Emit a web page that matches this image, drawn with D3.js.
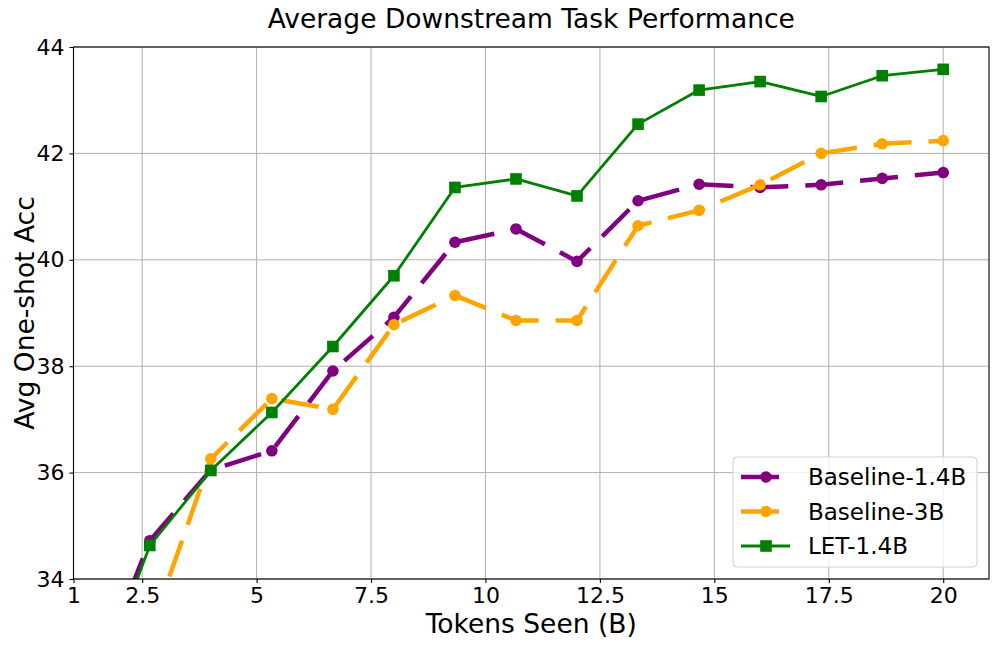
<!DOCTYPE html>
<html>
<head>
<meta charset="utf-8">
<script src="https://cdn.jsdelivr.net/npm/d3@7"></script>
<style>
  body { margin: 0; background: #fff; }
  svg { display: block; font-family: "DejaVu Sans", sans-serif; }
</style>
</head>
<body>
<div id="chart"></div>
<script>
// DATA
// ================================================================ //
const tokens = [1.333, 2.667, 4, 5.333, 6.667, 8, 9.333, 10.667, 12, 13.333, 14.667, 16, 17.333, 18.667, 20];
const baseline14 = [31.8, 34.72, 36.05, 36.41, 37.91, 38.92, 40.33, 40.58, 39.97, 41.11, 41.42, 41.36, 41.41, 41.53, 41.64];
const baseline3 = [30.2, 33.0, 36.26, 37.39, 37.19, 38.78, 39.33, 38.86, 38.86, 40.64, 40.93, 41.41, 42.0, 42.18, 42.24];
const let14 = [31.55, 34.63, 36.04, 37.13, 38.37, 39.70, 41.36, 41.52, 41.20, 42.55, 43.19, 43.35, 43.07, 43.46, 43.58];

const xTicks = [1, 2.5, 5, 7.5, 10, 12.5, 15, 17.5, 20];
const yTicks = [34, 36, 38, 40, 42, 44];

const series = [
    { name: "Baseline-1.4B", values: baseline14, color: "purple", dash: "38,17", marker: "circle", width: 4.5 },
    { name: "Baseline-3B", values: baseline3, color: "orange", dash: "38,17", marker: "circle", width: 4.5 },
    { name: "LET-1.4B", values: let14, color: "green", dash: null, marker: "square", width: 2.8 },
];
// ================================================================ //

const width = 996, height = 646;
const margin = { top: 47, right: 7, bottom: 67, left: 73.5 };

const svg = d3.select("#chart").append("svg")
    .attr("width", width)
    .attr("height", height);

const x = d3.scaleLinear().domain([1, 21]).range([margin.left, width - margin.right]);
const y = d3.scaleLinear().domain([34, 44]).range([height - margin.bottom, margin.top]);

svg.append("defs").append("clipPath").attr("id", "plotClip")
    .append("rect")
    .attr("x", margin.left).attr("y", margin.top)
    .attr("width", width - margin.left - margin.right)
    .attr("height", height - margin.top - margin.bottom);

// grid
svg.append("g")
    .selectAll("line")
    .data(xTicks)
    .join("line")
    .attr("x1", d => x(d)).attr("x2", d => x(d))
    .attr("y1", margin.top).attr("y2", height - margin.bottom)
    .attr("stroke", "#b0b0b0").attr("stroke-width", 1);

svg.append("g")
    .selectAll("line")
    .data(yTicks)
    .join("line")
    .attr("x1", margin.left).attr("x2", width - margin.right)
    .attr("y1", d => y(d)).attr("y2", d => y(d))
    .attr("stroke", "#b0b0b0").attr("stroke-width", 1);

// axes
const xAxis = svg.append("g")
    .attr("transform", `translate(0,${height - margin.bottom})`)
    .call(d3.axisBottom(x).tickValues(xTicks).tickSize(4).tickPadding(4).tickFormat(d => d))
    .call(g => g.select(".domain").remove());

const yAxis = svg.append("g")
    .attr("transform", `translate(${margin.left},0)`)
    .call(d3.axisLeft(y).tickValues(yTicks).tickSize(4).tickPadding(5))
    .call(g => g.select(".domain").remove());

[xAxis, yAxis].forEach(g => {
    g.selectAll("text").attr("font-size", 22).attr("fill", "#000").attr("font-family", "DejaVu Sans");
    g.selectAll(".tick line").attr("stroke", "#000").attr("stroke-width", 1.1);
});

// lines
const line = d3.line()
    .x((d, i) => x(tokens[i]))
    .y(d => y(d));

const plot = svg.append("g").attr("clip-path", "url(#plotClip)");

series.forEach(s => {
    plot.append("path")
        .datum(s.values)
        .attr("d", line)
        .attr("fill", "none")
        .attr("stroke", s.color)
        .attr("stroke-width", s.width)
        .attr("stroke-dasharray", s.dash)
        .attr("stroke-linejoin", "round");

    const pts = s.values.map((v, i) => [tokens[i], v]);
    if (s.marker === "circle") {
        plot.append("g").selectAll("circle")
            .data(pts)
            .join("circle")
            .attr("cx", d => x(d[0]))
            .attr("cy", d => y(d[1]))
            .attr("r", 5.8)
            .attr("fill", s.color);
    } else {
        plot.append("g").selectAll("rect")
            .data(pts)
            .join("rect")
            .attr("x", d => x(d[0]) - 5.8)
            .attr("y", d => y(d[1]) - 5.8)
            .attr("width", 11.6)
            .attr("height", 11.6)
            .attr("fill", s.color);
    }
});

// frame
svg.append("rect")
    .attr("x", margin.left).attr("y", margin.top)
    .attr("width", width - margin.left - margin.right)
    .attr("height", height - margin.top - margin.bottom)
    .attr("fill", "none")
    .attr("stroke", "#000")
    .attr("stroke-width", 1.1);

// legend
const lg = svg.append("g").attr("transform", "translate(733,457)");
lg.append("rect")
    .attr("width", 244).attr("height", 110)
    .attr("rx", 4)
    .attr("fill", "#fff").attr("fill-opacity", 0.8)
    .attr("stroke", "#d0d0d0");

series.forEach((s, i) => {
    const row = lg.append("g").attr("transform", `translate(0,${20 + i * 34.5})`);
    row.append("line")
        .attr("x1", 8).attr("x2", 57)
        .attr("stroke", s.color)
        .attr("stroke-width", s.width)
        .attr("stroke-dasharray", s.dash);
    if (s.marker === "circle") {
        row.append("circle").attr("cx", 33).attr("r", 5.8).attr("fill", s.color);
    } else {
        row.append("rect").attr("x", 33 - 5.8).attr("y", -5.8).attr("width", 11.6).attr("height", 11.6).attr("fill", s.color);
    }
    row.append("text")
        .attr("x", 75).attr("dy", "0.35em")
        .attr("font-size", 23)
        .text(s.name);
});

// titles
svg.append("text")
    .attr("x", (margin.left + width - margin.right) / 2)
    .attr("y", 28)
    .attr("text-anchor", "middle")
    .attr("font-size", 26.5)
    .text("Average Downstream Task Performance");

svg.append("text")
    .attr("x", (margin.left + width - margin.right) / 2)
    .attr("y", 633)
    .attr("text-anchor", "middle")
    .attr("font-size", 26.5)
    .text("Tokens Seen (B)");

svg.append("text")
    .attr("transform", `translate(34,${(margin.top + height - margin.bottom) / 2}) rotate(-90)`)
    .attr("text-anchor", "middle")
    .attr("font-size", 26.5)
    .text("Avg One-shot Acc");
</script>
</body>
</html>
